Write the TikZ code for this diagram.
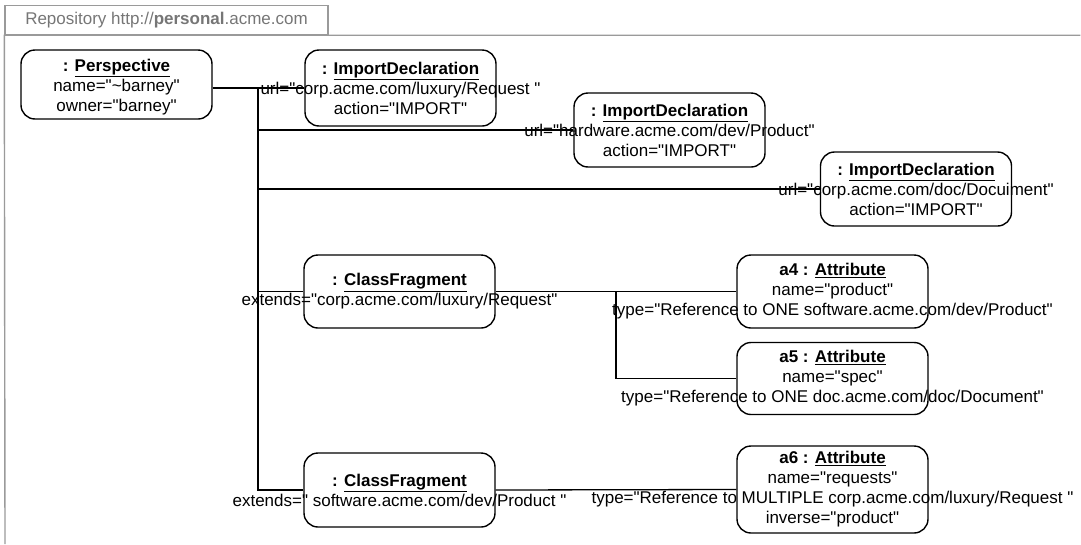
\documentclass[tikz,border=0pt]{standalone}
\usepackage{fontspec}
\setmainfont{Liberation Sans}[Ligatures=TeXOff]
\usepackage{tikz}
\usetikzlibrary{positioning,calc}
\definecolor{framegray}{HTML}{9A9A9A}
\definecolor{tabtext}{HTML}{767676}
\newcommand{\objfont}{\fontsize{17}{20}\selectfont}

\begin{document}
\begin{tikzpicture}[
    x=1pt, y=-1pt,
    objbox/.style={
      draw=black, line width=1.4pt, rounded corners=14pt,
      minimum width=191pt, minimum height=#1, inner sep=0pt,
    },
    objtext/.style={
      font=\objfont, align=center, inner sep=0pt,
    },
    link/.style={draw=black, line width=1.3pt},
    bus/.style={draw=black, line width=2.8pt},
  ]
  \useasboundingbox (0,0) rectangle (1081,544);

  % =================== Repository frame ===================
  \node[draw=framegray, line width=1.4pt, minimum width=323pt, minimum height=29pt,
        inner sep=0pt, font=\objfont, text=tabtext] (repo) at (166.5, 20)
    {Repository http://\textbf{personal}.acme.com};
  \draw[framegray, line width=1.4pt] (5,544) -- (repo.south west) -- ++(1076,0);

  % =================== Perspective ===================
  \node[objbox=69pt] (persp) at (116.5, 84.5) {};
  \node[objtext, yshift=-2.5pt] (persp-t) at (persp)
    {\textbf{: \underline{Perspective}}\\ name="\textasciitilde barney"\\ owner="barney"};

  % =================== Imports ===================
  \node[objbox=76pt] (imp1) at (400.5, 88) {};
  \node[objtext] (imp1-t) at (imp1)
    {\textbf{: \underline{ImportDeclaration}}\\ url="corp.acme.com/luxury/Request "\\ action="IMPORT"};

  \node[objbox=74pt] (imp2) at (669.5, 130) {};
  \node[objtext] (imp2-t) at (imp2)
    {\textbf{: \underline{ImportDeclaration}}\\ url="hardware.acme.com/dev/Product"\\ action="IMPORT"};

  \node[objbox=74pt] (imp3) at (916, 189) {};
  \node[objtext] (imp3-t) at (imp3)
    {\textbf{: \underline{ImportDeclaration}}\\ url="corp.acme.com/doc/Docuiment"\\ action="IMPORT"};

  % =================== Class fragments ===================
  \node[objbox=73pt] (frag1) at (399.5, 291.5) {};
  \node[objtext] (frag1-t) at (frag1)
    {\textbf{: \underline{ClassFragment}}\\ extends="corp.acme.com/luxury/Request"};

  \node[objbox=74pt] (frag2) at (399.5, 490) {};
  \node[objtext] (frag2-t) at (frag2)
    {\textbf{: \underline{ClassFragment}}\\ extends=" software.acme.com/dev/Product "};

  % =================== Attributes ===================
  \node[objbox=73pt] (a4) at (832.5, 291.5) {};
  \node[objtext] (a4-t) at (a4)
    {\textbf{a4 : \underline{Attribute}}\\ name="product"\\ type="Reference to ONE software.acme.com/dev/Product"};

  \node[objbox=72pt] (a5) at (832.5, 378.5) {};
  \node[objtext] (a5-t) at (a5)
    {\textbf{a5 : \underline{Attribute}}\\ name="spec"\\ type="Reference to ONE doc.acme.com/doc/Document"};

  \node[objbox=87pt] (a6) at (832.5, 489.5) {};
  \node[objtext] (a6-t) at (a6)
    {\textbf{a6 : \underline{Attribute}}\\ name="requests"\\ type="Reference to MULTIPLE corp.acme.com/luxury/Request "\\ inverse="product"};

  % =================== Links ===================
  \coordinate (trunk) at (258, 88);
  \coordinate (fork) at (616, 291.5);
  \draw[bus] (persp.east |- trunk) -- (trunk) -- (trunk |- imp3.west);
  \draw[link] (trunk) -- (imp1.west);
  \foreach \n in {imp2,imp3,frag1,frag2}
    \draw[link] (trunk) |- (\n.west);
  \draw[link] (frag1.east) -- (a4.west);
  \draw[link] (fork) |- (a5.west);
  \draw[link] (frag2.east) -- (a6.west);

\end{tikzpicture}
\end{document}
